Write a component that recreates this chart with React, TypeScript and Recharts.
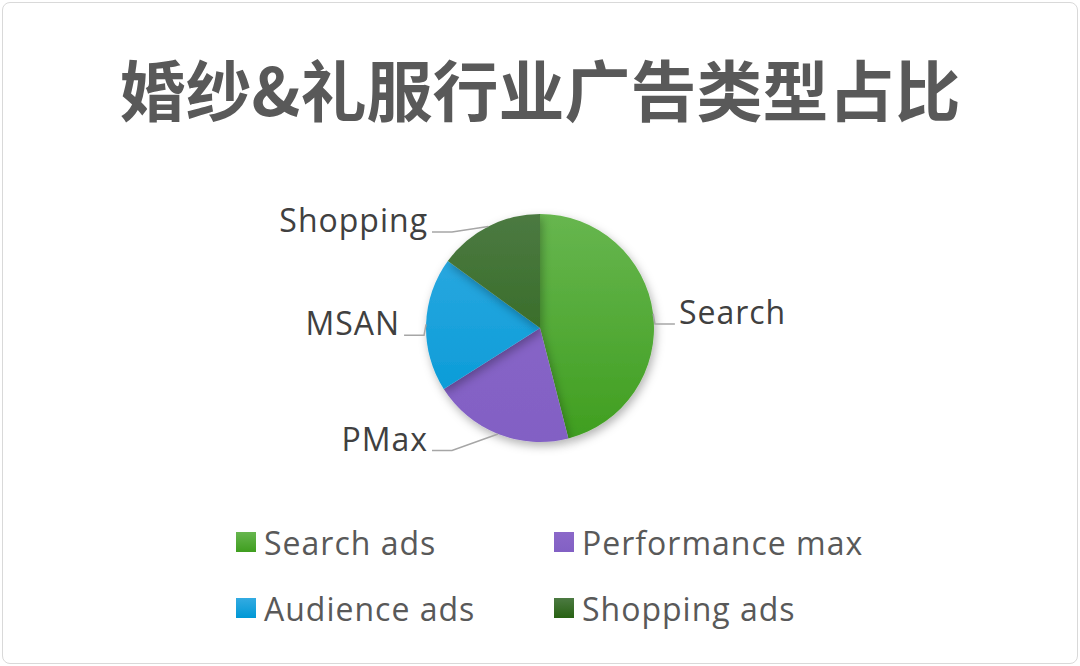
import React from "react";
import { PieChart, Pie, Cell, Legend } from "recharts";

// ── data ──────────────────────────────────────────────
const categories = ["Search ads", "Performance max", "Audience ads", "Shopping ads"];
const shortLabels = ["Search", "PMax", "MSAN", "Shopping"];
const shares = [46, 20, 19, 15];
const colorsTop = ["#67b64f", "#8b68c9", "#33abe2", "#4c7a42"];
const colorsBottom = ["#3f9e1f", "#8260c4", "#0098d5", "#286213"];

const chartData = categories.map((name, i) => ({
  name,
  short: shortLabels[i],
  value: shares[i],
}));

const W = 1080;
const H = 666;
const CX = 540;
const CY = 328;
const R = 114;
const FONT = "'Open Sans', 'Noto Sans', sans-serif";
const RAD = Math.PI / 180;

// Leader line + outside label (pushed out horizontally, like Excel's best fit)
function renderLabel(props: any) {
  const { cx, cy, midAngle, outerRadius, index } = props;
  const cos = Math.cos(-midAngle * RAD);
  const sin = Math.sin(-midAngle * RAD);
  const right = cos >= 0;
  const sx = cx + outerRadius * cos;
  const sy = cy + outerRadius * sin;
  const tx = cx + (right ? 1 : -1) * (outerRadius + 26) * Math.max(Math.abs(cos), 0.8);
  const ty = cy + sin * (outerRadius + 6) + 11;
  const ex = tx + (right ? -4 : 4);
  const mx = ex + (right ? -20 : 20);
  return (
    <g key={`lbl-${index}`}>
      <polyline
        points={`${sx},${sy} ${mx},${ty} ${ex},${ty}`}
        fill="none"
        stroke="#a6a6a6"
        strokeWidth={1.5}
      />
      <text
        x={tx}
        y={ty}
        textAnchor={right ? "start" : "end"}
        fill="#404040"
        fontSize={32}
        letterSpacing={1}
        fontFamily={FONT}
      >
        {shortLabels[index]}
      </text>
    </g>
  );
}

function LegendGrid() {
  return (
    <div
      style={{
        display: "grid",
        gridTemplateColumns: "318px 318px",
        rowGap: 26,
        paddingLeft: 236,
        fontFamily: FONT,
        fontSize: 32,
        letterSpacing: 1,
        color: "#595959",
      }}
    >
      {categories.map((c, i) => (
        <div key={c} style={{ display: "flex", alignItems: "center", height: 40 }}>
          <span
            style={{
              flex: "0 0 auto",
              display: "inline-block",
              width: 20,
              height: 20,
              marginRight: 8,
              background: `linear-gradient(${colorsTop[i]}, ${colorsBottom[i]})`,
            }}
          />
          <span style={{ whiteSpace: "nowrap" }}>{c}</span>
        </div>
      ))}
    </div>
  );
}

export default function App() {
  return (
    <div style={{ position: "relative", width: W, height: H, background: "#fff" }}>
      <style>{`body{margin:0}`}</style>
      <div
        style={{
          position: "absolute",
          left: 2,
          top: 2,
          width: W - 6,
          height: H - 6,
          border: "1px solid #d9d9d9",
          borderRadius: 8,
        }}
      />
      <div
        style={{
          position: "absolute",
          top: 43,
          width: W,
          textAlign: "center",
          fontFamily: "'Noto Sans CJK SC', sans-serif",
          fontWeight: 700,
          fontSize: 66,
          color: "#595959",
          lineHeight: "88px",
        }}
      >
        婚纱&amp;礼服行业广告类型占比
      </div>
      <PieChart width={W} height={H} margin={{ top: 0, right: 0, bottom: 0, left: 0 }}>
        <defs>
          {colorsTop.map((c, i) => (
            <linearGradient
              key={i}
              id={`grad${i}`}
              gradientUnits="userSpaceOnUse"
              x1={0}
              y1={CY - R}
              x2={0}
              y2={CY + R}
            >
              <stop offset="0%" stopColor={c} />
              <stop offset="100%" stopColor={colorsBottom[i]} />
            </linearGradient>
          ))}
          <filter id="pieShadow" x="-20%" y="-20%" width="140%" height="140%">
            <feDropShadow dx={2} dy={4} stdDeviation={5} floodColor="#000" floodOpacity={0.3} />
          </filter>
        </defs>
        <Pie
          data={chartData}
          dataKey="value"
          nameKey="name"
          cx={CX}
          cy={CY}
          outerRadius={R}
          startAngle={90}
          endAngle={-270}
          stroke="none"
          label={renderLabel}
          labelLine={false}
          isAnimationActive={false}
          style={{ filter: "url(#pieShadow)" }}
        >
          {chartData.map((d, i) => (
            <Cell key={d.name} fill={`url(#grad${i})`} />
          ))}
        </Pie>
        <Legend
          content={<LegendGrid />}
          wrapperStyle={{ position: "absolute", top: 522, left: 0, width: W }}
        />
      </PieChart>
    </div>
  );
}
